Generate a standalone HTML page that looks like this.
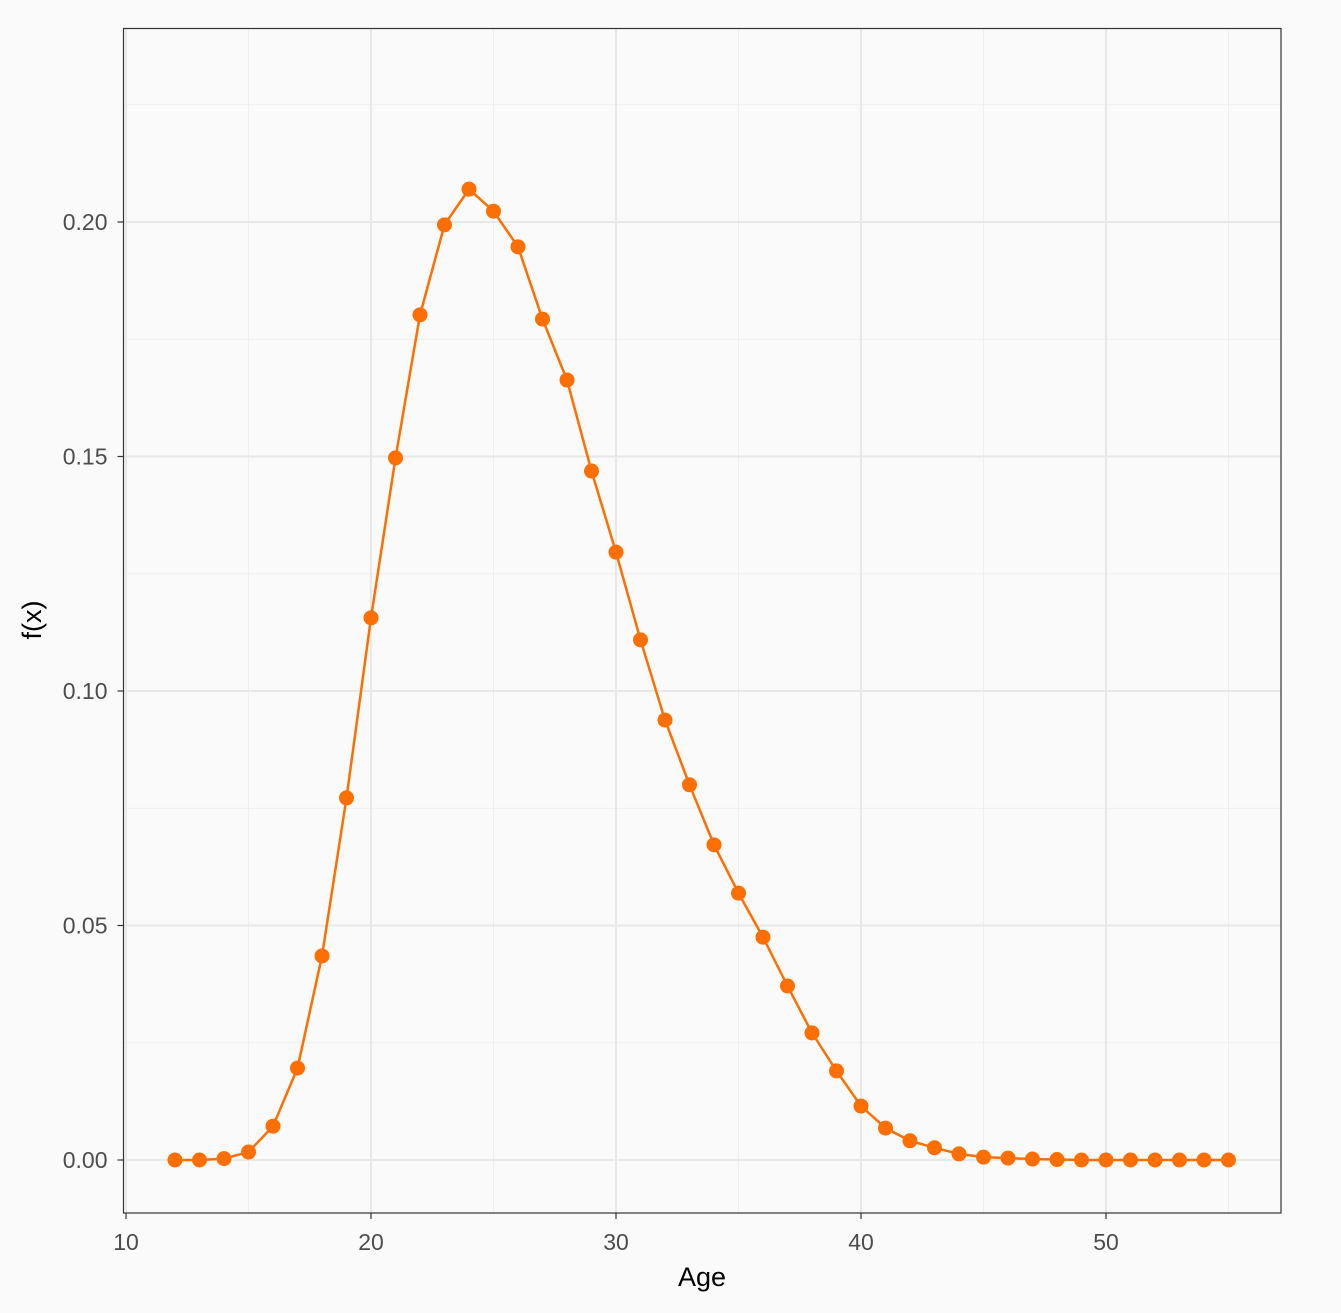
<!DOCTYPE html>
<html><head><meta charset="utf-8"><style>
html,body{margin:0;padding:0;background:#FAFAFA;}
svg{display:block;font-family:"Liberation Sans",Arial,sans-serif;}
</style></head><body>
<svg id="chart" width="1341" height="1313" xmlns="http://www.w3.org/2000/svg">
<rect x="0" y="0" width="1341" height="1313" fill="#FAFAFA"/>
<g id="grid"></g>
<g id="series"></g>
<rect x="123.5" y="28.5" width="1157.5" height="1184.5" fill="none" stroke="#333" stroke-width="1.2"/>
<g id="axes"></g>
<text x="702" y="1286" text-anchor="middle" font-size="27" fill="#000">Age</text>
<text transform="translate(41,620) rotate(-90)" text-anchor="middle" font-size="27" fill="#000">f(x)</text>
</svg>
<script>
const ages = [12,13,14,15,16,17,18,19,20,21,22,23,24,25,26,27,28,29,30,31,32,33,34,35,36,37,38,39,40,41,42,43,44,45,46,47,48,49,50,51,52,53,54,55];
const density = [0,0,0.0003,0.0017,0.0072,0.0196,0.0435,0.0772,0.1156,0.1497,0.1802,0.1994,0.2070,0.2023,0.1947,0.1793,0.1663,0.1469,0.1296,0.1109,0.0938,0.0800,0.0672,0.0569,0.0475,0.0371,0.0271,0.0190,0.0115,0.0068,0.0041,0.0026,0.0013,0.0006,0.0004,0.0002,0.0001,0,0,0,0,0,0,0];
const xTicks = [10,20,30,40,50];
const xMinor = [15,25,35,45,55];
const yTicks = [0,0.05,0.10,0.15,0.20];
const yTickLabels = ["0.00","0.05","0.10","0.15","0.20"];
const yMinor = [0.025,0.075,0.125,0.175,0.225];

const NS="http://www.w3.org/2000/svg";
function sx(v){return 371+(v-20)*24.5;}
function sy(v){return 1160-v*4690;}
function mk(tag,attrs,parent){const e=document.createElementNS(NS,tag);for(const k in attrs)e.setAttribute(k,attrs[k]);parent.appendChild(e);return e;}
const grid=document.getElementById('grid'),series=document.getElementById('series'),axes=document.getElementById('axes');
const L=123.5,R=1281,T=28.5,B=1213;
xMinor.forEach(v=>{if(sx(v)>R)return;const e=mk('line',{x1:sx(v),x2:sx(v),y1:T,y2:B,stroke:'#EFEFEF','stroke-width':1},grid);

});
yMinor.forEach(v=>{const e=mk('line',{x1:L,x2:R,y1:sy(v),y2:sy(v),stroke:'#EFEFEF','stroke-width':1},grid);

});
xTicks.forEach(v=>{const e=mk('line',{x1:sx(v),x2:sx(v),y1:T,y2:B,stroke:'#E8E8E8','stroke-width':2},grid);


const t=mk('line',{x1:sx(v),x2:sx(v),y1:B,y2:B+6,stroke:'#333','stroke-width':1.2},axes);


const l=mk('text',{x:sx(v),y:1250,'text-anchor':'middle','font-size':23,fill:'#4D4D4D'},axes);l.textContent=v;

});
yTicks.forEach((v,i)=>{const e=mk('line',{x1:L,x2:R,y1:sy(v),y2:sy(v),stroke:'#E8E8E8','stroke-width':2},grid);


const t=mk('line',{x1:L-6,x2:L,y1:sy(v),y2:sy(v),stroke:'#333','stroke-width':1.2},axes);


const l=mk('text',{x:L-16,y:sy(v)+8,'text-anchor':'end','font-size':23,fill:'#4D4D4D'},axes);l.textContent=yTickLabels[i];

});
const pts=ages.map((a,i)=>sx(a)+','+sy(density[i])).join(' ');
const line=mk('polyline',{points:pts,fill:'none',stroke:'#FF6F00','stroke-width':2.5},series);


ages.forEach((a,i)=>{const c=mk('circle',{cx:sx(a),cy:sy(density[i]),r:7.5,fill:'#FF6F00'},series);

});
</script>
</body></html>
